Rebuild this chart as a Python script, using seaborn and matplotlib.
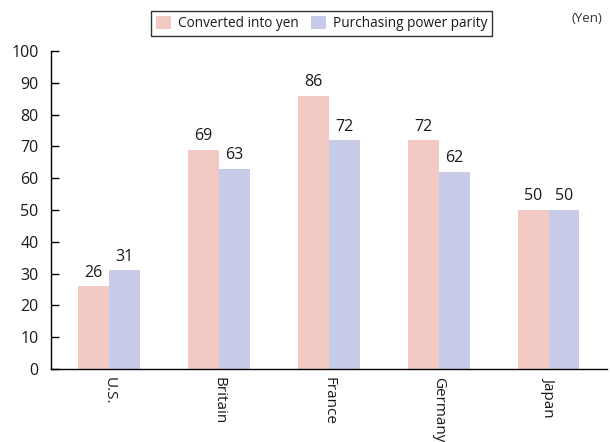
import matplotlib
matplotlib.use("Agg")
import matplotlib.pyplot as plt
import seaborn as sns
import pandas as pd
from matplotlib.patches import Patch

countries = ["U.S.", "Britain", "France", "Germany", "Japan"]
converted = [26, 69, 86, 72, 50]
ppp = [31, 63, 72, 62, 50]
series_names = ["Converted into yen", "Purchasing power parity"]
colors = ["#F2CAC3", "#C7CBE7"]

df = pd.DataFrame({
    "country": countries * 2,
    "value": converted + ppp,
    "series": [series_names[0]] * len(countries) + [series_names[1]] * len(countries),
})

sns.set_style("white")
plt.rcParams["font.family"] = ["Open Sans", "DejaVu Sans"]

fig = plt.figure(figsize=(6.1, 4.42), dpi=100)
ax = fig.add_axes([0.0836, 0.165, 0.9114, 0.7196])

sns.barplot(data=df, x="country", y="value", hue="series", palette=colors,
            width=0.56, gap=0, dodge=True, ax=ax, saturation=1, legend=False,
            linewidth=0, edgecolor="none")

for c in ax.containers:
    ax.bar_label(c, labels=[f"{v:.0f}" for v in c.datavalues], padding=4,
                 fontsize=11.5, color="#1a1a1a")

ax.set_ylim(0, 100)
ax.set_xlim(-0.53, 4.53)
ax.set_yticks(range(0, 101, 10))
ax.set_xlabel("")
ax.set_ylabel("")
ax.tick_params(axis="y", direction="in", length=6, width=1, labelsize=11.5,
               left=True, color="black", pad=9, labelcolor="#1a1a1a")
ax.tick_params(axis="x", length=0, labelsize=11, pad=6, labelcolor="#1a1a1a")
for lab in ax.get_xticklabels():
    lab.set_rotation(-90)
    lab.set_va("top")
    lab.set_ha("center")
for s in ["top", "right"]:
    ax.spines[s].set_visible(False)
for s in ["left", "bottom"]:
    ax.spines[s].set_color("black")
    ax.spines[s].set_linewidth(1)

handles = [Patch(facecolor=colors[0], edgecolor="none"),
           Patch(facecolor=colors[1], edgecolor="none")]
leg = fig.legend(handles, series_names, loc="center", bbox_to_anchor=(0.5275, 0.9475),
                 ncol=2, frameon=True, fancybox=False, fontsize=9.8,
                 handlelength=1.1, handleheight=1.1, handletextpad=0.5,
                 columnspacing=0.9, borderpad=0.35, borderaxespad=0)
leg.get_frame().set_edgecolor("black")
leg.get_frame().set_linewidth(1)
for t in leg.get_texts():
    t.set_color("#1a1a1a")

fig.text(0.963, 0.958, "(Yen)", ha="center", va="center", fontsize=9.5, color="#333333")

fig.savefig("out.png", dpi=100)
